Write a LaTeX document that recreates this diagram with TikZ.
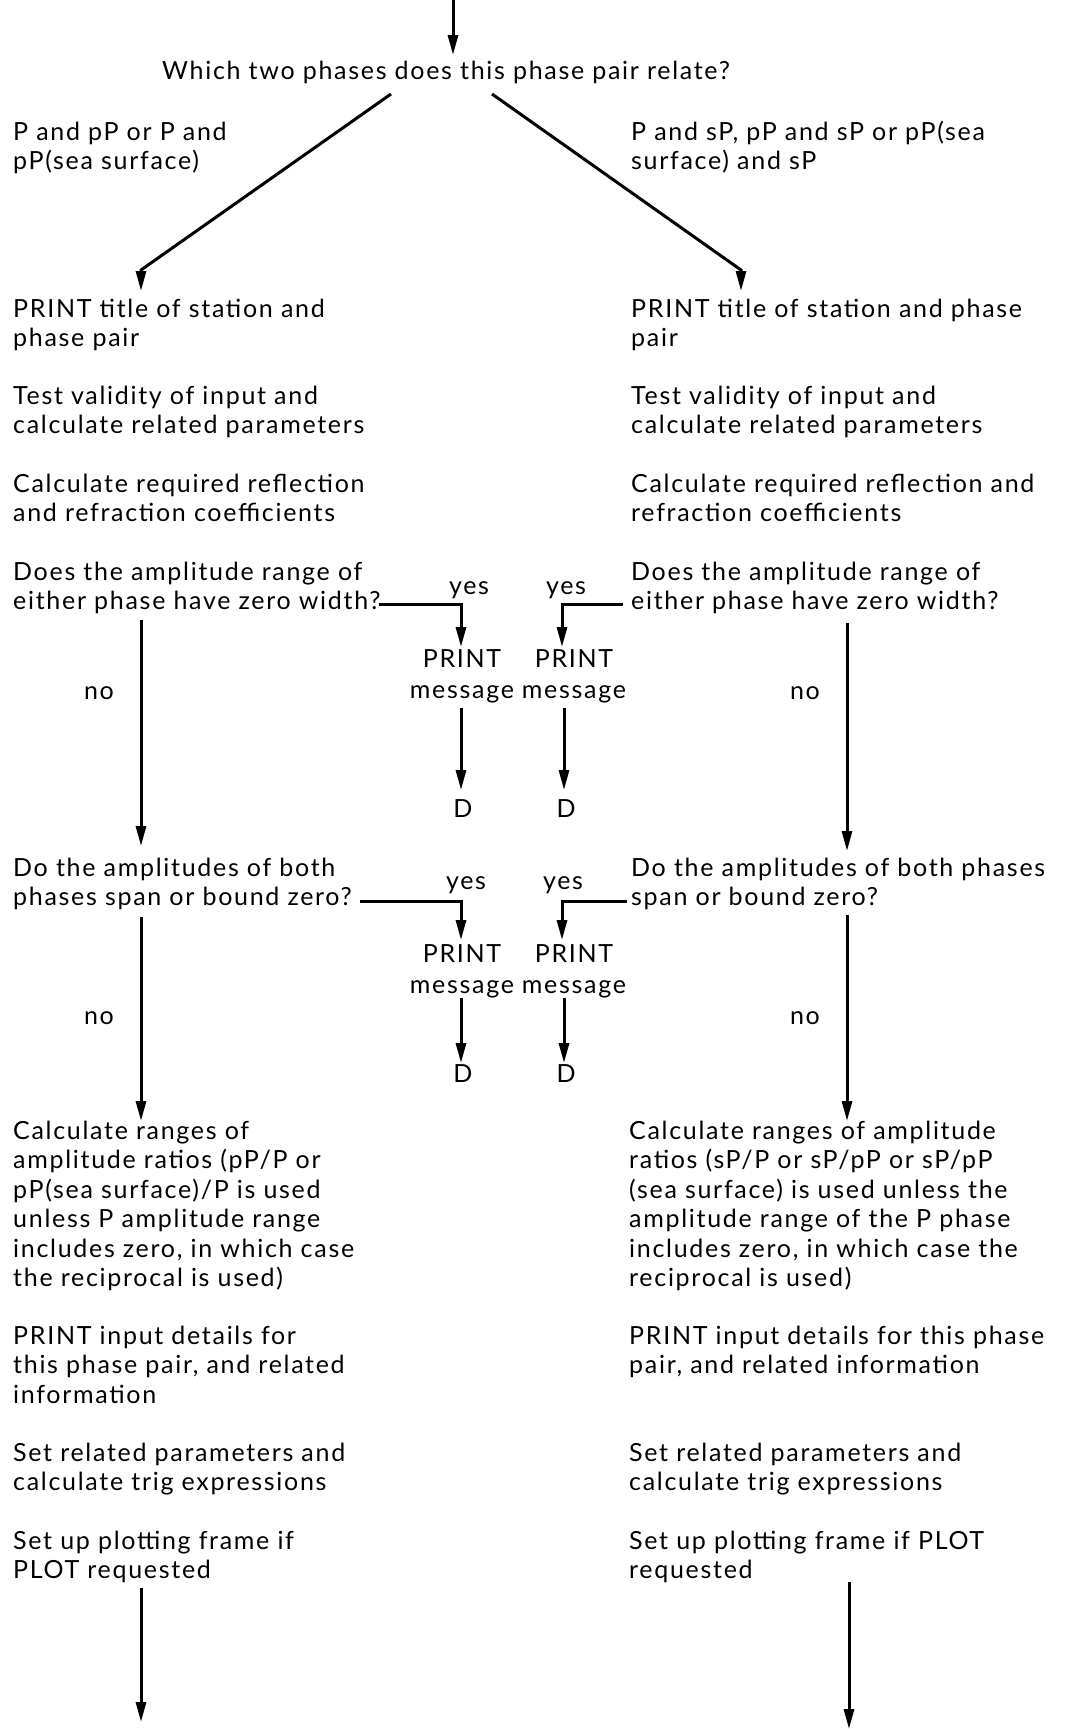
\documentclass[tikz,border=0pt]{standalone}
\usepackage{fontspec}
\setmainfont[LetterSpace=6.8]{Lato}
\usetikzlibrary{arrows.meta,calc}
\begin{document}
\begin{tikzpicture}[x=1pt,y=-1pt,
  txt/.style={anchor=base west,align=left,inner sep=0pt,font=\fontsize{25}{29.5}\selectfont},
  ctxt/.style={anchor=base,align=center,inner sep=0pt,font=\fontsize{25}{31}\selectfont},
  arr/.style={line width=3pt,-{Triangle[length=20pt,width=10pt]}}]
\useasboundingbox (0,0) rectangle (1065,1729);
% title (anchors: baseline of the last line)
\coordinate (top) at (453,0);
\node[txt] (title) at (162,79) {Which two phases does this phase pair relate?};
\node[txt] (Lb) at (13,169.5) {P and pP or P and\\pP(sea surface)};
\node[txt] (Rb) at (631,169.5) {P and sP, pP and sP or pP(sea\\surface) and sP};
% left column
\node[txt] (L1) at (13,346.5) {PRINT title of station and\\phase pair};
\node[txt] (L2) at (13,433.5) {Test validity of input and\\calculate related parameters};
\node[txt] (L3) at (13,521.5) {Calculate required reflection\\and refraction coefficients};
\node[txt] (L4) at (13,609.5) {Does the amplitude range of\\either phase have zero width?};
\node[txt] (L5) at (13,905.5) {Do the amplitudes of both\\phases span or bound zero?};
\node[txt] (L6) at (13,1286.5) {Calculate ranges of\\amplitude ratios (pP/P or\\pP(sea surface)/P is used\\unless P amplitude range\\includes zero, in which case\\the reciprocal is used)};
\node[txt] (L7) at (13,1403) {PRINT input details for\\this phase pair, and related\\information};
\node[txt] (L8) at (13,1490.5) {Set related parameters and\\calculate trig expressions};
\node[txt] (L9) at (13,1578.5) {Set up plotting frame if\\PLOT requested};
% right column
\node[txt] (R1) at (631,346.5) {PRINT title of station and phase\\pair};
\node[txt] (R2) at (631,433.5) {Test validity of input and\\calculate related parameters};
\node[txt] (R3) at (631,521.5) {Calculate required reflection and\\refraction coefficients};
\node[txt] (R4) at (631,609.5) {Does the amplitude range of\\either phase have zero width?};
\node[txt] (R5) at (631,905.5) {Do the amplitudes of both phases\\span or bound zero?};
\node[txt] (R6) at (629,1286.5) {Calculate ranges of amplitude\\ratios (sP/P or sP/pP or sP/pP\\(sea surface) is used unless the\\amplitude range of the P phase\\includes zero, in which case the\\reciprocal is used)};
\node[txt] (R7) at (629,1373.5) {PRINT input details for this phase\\pair, and related information};
\node[txt] (R8) at (629,1490.5) {Set related parameters and\\calculate trig expressions};
\node[txt] (R9) at (629,1578.5) {Set up plotting frame if PLOT\\requested};
% middle
\node[ctxt] (Y1) at (469,594) {yes};
\node[ctxt] (Y2) at (566,594) {yes};
\node[ctxt] (Y3) at (466,889) {yes};
\node[ctxt] (Y4) at (563,889) {yes};
\node[ctxt] (PM1) at (462,698) {PRINT\\message};
\node[ctxt] (PM2) at (574,698) {PRINT\\message};
\node[ctxt] (PM3) at (462,993) {PRINT\\message};
\node[ctxt] (PM4) at (574,993) {PRINT\\message};
\node[ctxt] (D1) at (463,817) {D};
\node[ctxt] (D2) at (566,817) {D};
\node[ctxt] (D3) at (463,1082) {D};
\node[ctxt] (D4) at (566,1082) {D};
\node[ctxt] (N1) at (99,699) {no};
\node[ctxt] (N2) at (805,699) {no};
\node[ctxt] (N3) at (99,1024) {no};
\node[ctxt] (N4) at (805,1024) {no};
% connectors
\draw[arr] (top) -- (453,55);
\coordinate (lb) at (391,94);
\coordinate (rb) at (492,94);
\draw[arr] (lb) -- (141,270) -- (141,291);
\draw[arr] (rb) -- (741,270) -- (741,291);
% yes branches
\coordinate (j1) at (461,604);
\coordinate (j2) at (562,604);
\coordinate (j3) at (461,901);
\coordinate (j4) at (562,901);
\draw[arr] ([xshift=-2pt]L4.east |- j1) -- (j1) -- (461,647);
\draw[arr] ([xshift=-8pt]R4.west |- j2) -- (j2) -- (562,647);
\draw[arr] ([xshift=8pt]L5.east |- j3) -- (j3) -- (461,940);
\draw[arr] ([xshift=-4pt]R5.west |- j4) -- (j4) -- (562,940);
\draw[arr] (461,708) -- (461,790);
\draw[arr] (564,708) -- (564,790);
\draw[arr] (461,998) -- (461,1063);
\draw[arr] (564,998) -- (564,1063);
% no branches
\draw[arr] (141,620) -- (141,846);
\draw[arr] (847,623) -- (847,851);
\draw[arr] (141,917) -- (141,1121);
\draw[arr] (847,915) -- (847,1121);
% bottom
\coordinate (bl) at (141,1722);
\coordinate (br) at (849,1729);
\draw[arr] (141,1588) -- (bl);
\draw[arr] (849,1582) -- (br);
\end{tikzpicture}
\end{document}
